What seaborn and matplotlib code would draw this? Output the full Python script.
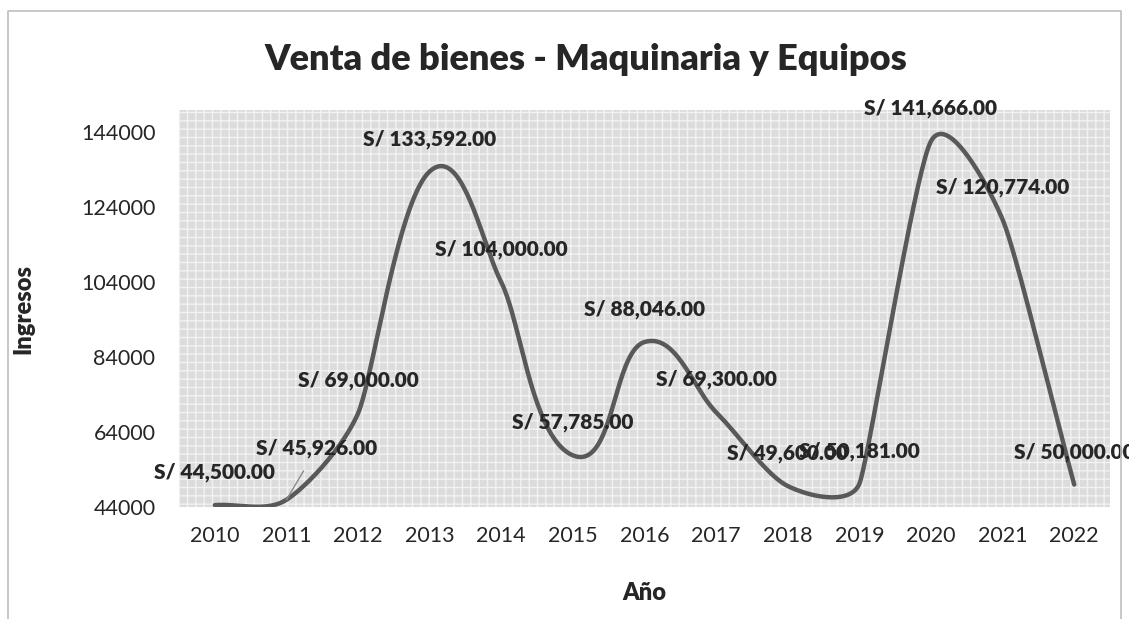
import numpy as np
import pandas as pd
import seaborn as sns
import matplotlib.pyplot as plt
from matplotlib.patches import Rectangle

# datos
anios = ['2010', '2011', '2012', '2013', '2014', '2015', '2016',
         '2017', '2018', '2019', '2020', '2021', '2022']
ingresos = [44500, 45926, 69000, 133592, 104000, 57785, 88046,
            69300, 49600, 50181, 141666, 120774, 50000]
etiquetas = ['S/ {:,.2f}'.format(v) for v in ingresos]
yticks = [44000, 64000, 84000, 104000, 124000, 144000]

YMIN, YMAX = 44000, 150000
AX_W, AX_H = 931, 397  # tamano del area de trazado en px


def suavizar(y, n=40):
    # linea suavizada estilo Excel: bezier con tangentes en espacio de pantalla
    sx = AX_W / len(y)
    sy = AX_H / (YMAX - YMIN)
    P = np.column_stack([np.arange(len(y)) * sx, np.asarray(y, dtype=float) * sy])
    cuerdas = np.linalg.norm(np.diff(P, axis=0), axis=1)
    t = np.linspace(0, 1, n, endpoint=False)[:, None]
    pts = []
    for i in range(len(P) - 1):
        p1, p2 = P[i], P[i + 1]
        d1 = P[i + 1] - P[i - 1] if i > 0 else P[1] - P[0]
        d2 = P[i + 2] - P[i] if i + 2 < len(P) else P[-1] - P[-2]
        c = cuerdas[i]
        L1 = min(c, cuerdas[i - 1] if i > 0 else c) / 3
        L2 = min(c, cuerdas[i + 1] if i + 1 < len(cuerdas) else c) / 3
        c1 = p1 + d1 / np.linalg.norm(d1) * L1
        c2 = p2 - d2 / np.linalg.norm(d2) * L2
        b = ((1 - t) ** 3 * p1 + 3 * (1 - t) ** 2 * t * c1
             + 3 * (1 - t) * t ** 2 * c2 + t ** 3 * p2)
        pts.append(b)
    pts.append(P[-1][None, :])
    pts = np.vstack(pts)
    return pd.DataFrame({'x': pts[:, 0] / sx, 'y': pts[:, 1] / sy})


sns.set_style('white')
plt.rcParams['font.family'] = ['Lato', 'DejaVu Sans']
plt.rcParams['hatch.linewidth'] = 1.0

fig = plt.figure(figsize=(11.29, 6.19), dpi=100)
ax = fig.add_axes([179 / 1129, 1 - 507 / 619, AX_W / 1129, AX_H / 619])

# fondo con trama
ax.set_facecolor('#dcdcdc')
ax.add_patch(Rectangle((0, 0), 1, 1, transform=ax.transAxes, facecolor='#dcdcdc',
                       edgecolor='#f2f2f2', hatch='++', linewidth=0, zorder=0))

curva = suavizar(ingresos)
sns.lineplot(data=curva, x='x', y='y', sort=False, color='#595959', linewidth=3.2,
             ax=ax, zorder=3)

for i, (v, txt) in enumerate(zip(ingresos, etiquetas)):
    if i == 1:
        ax.annotate(txt, xy=(i, v), xytext=(22, 37), textcoords='offset points',
                    ha='center', va='center', fontsize=15, fontweight='heavy',
                    arrowprops=dict(arrowstyle='-', color='#8c8c8c', lw=1,
                                    shrinkA=8, shrinkB=0), zorder=4)
    else:
        ax.annotate(txt, xy=(i, v), xytext=(0, 23.5), textcoords='offset points',
                    ha='center', va='center', fontsize=15, fontweight='heavy', zorder=4)

ax.set_xlim(-0.5, 12.5)
ax.set_ylim(YMIN, YMAX)
ax.set_xticks(range(len(anios)))
ax.set_xticklabels(anios)
ax.set_yticks(yticks)
ax.set_yticklabels([str(v) for v in yticks])
ax.tick_params(axis='x', length=0, pad=14, labelsize=15.5)
ax.tick_params(axis='y', length=0, pad=17, labelsize=15.5)
for s in ax.spines.values():
    s.set_visible(False)

ax.set_xlabel('Año', fontsize=17, fontweight='heavy')
ax.xaxis.set_label_coords(0.5, -0.19)
ax.set_ylabel('Ingresos', fontsize=17, fontweight='heavy')
ax.yaxis.set_label_coords(-0.155, 0.5)

fig.text(0.519, 1 - 60 / 619, 'Venta de bienes - Maquinaria y Equipos',
         ha='center', va='center', fontsize=26, fontweight='heavy')

# borde del grafico
fig.add_artist(plt.Line2D([8 / 1129, 8 / 1129, 1121 / 1129, 1121 / 1129],
                          [0, 1 - 11 / 619, 1 - 11 / 619, 0],
                          transform=fig.transFigure, color='#bfbfbf', lw=1.2))

fig.savefig('out.png', dpi=100)
